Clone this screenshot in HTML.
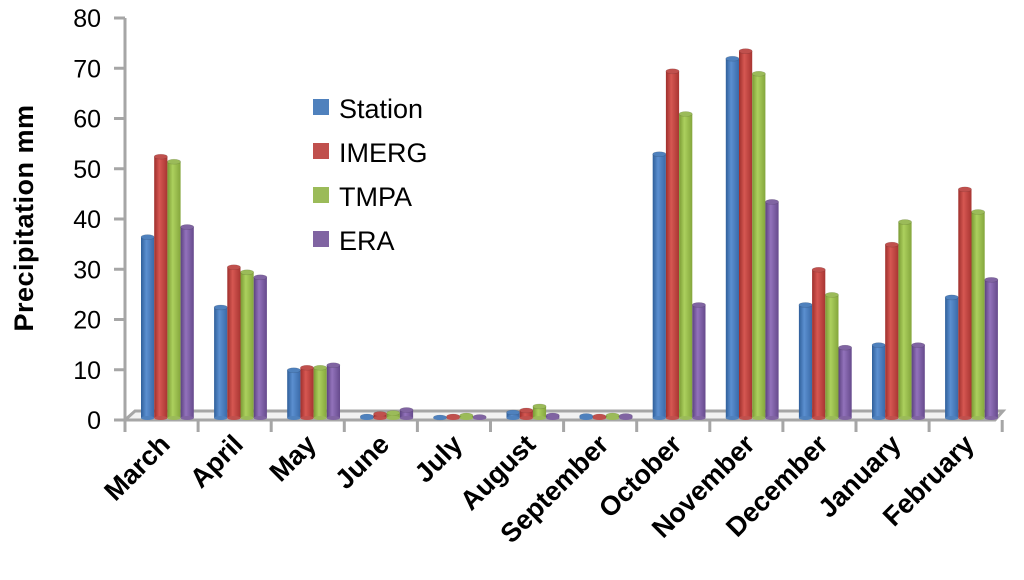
<!DOCTYPE html>
<html><head><meta charset="utf-8"><style>
html,body{margin:0;padding:0;background:#fff;}
svg{display:block;font-family:"Liberation Sans",sans-serif;}
</style></head><body>
<svg id="chart" width="1024" height="580" viewBox="0 0 1024 580">
<defs>
<linearGradient id="g0" x1="0" x2="1"><stop offset="0" stop-color="#2f5f9a"/><stop offset="0.4" stop-color="#5b8fd0"/><stop offset="1" stop-color="#3a6aa8"/></linearGradient>
<linearGradient id="g1" x1="0" x2="1"><stop offset="0" stop-color="#9e2f2c"/><stop offset="0.4" stop-color="#d65752"/><stop offset="1" stop-color="#a83532"/></linearGradient>
<linearGradient id="g2" x1="0" x2="1"><stop offset="0" stop-color="#7a9a34"/><stop offset="0.4" stop-color="#acd05e"/><stop offset="1" stop-color="#84a63c"/></linearGradient>
<linearGradient id="g3" x1="0" x2="1"><stop offset="0" stop-color="#5c4280"/><stop offset="0.4" stop-color="#9272bb"/><stop offset="1" stop-color="#664a8c"/></linearGradient>
</defs>
<g id="axes"></g>
<g id="bars"></g>
<g id="labels"></g>
</svg>
<script>
const categories=["March","April","May","June","July","August","September","October","November","December","January","February"];
const seriesNames=["Station","IMERG","TMPA","ERA"];
const station=[36,22,9.5,0.3,0.1,1.1,0.4,52.5,71.5,22.5,14.5,24];
const imerg=[52,30,10,0.8,0.3,1.5,0.3,69,73,29.5,34.5,45.5];
const tmpa=[51,29,10,1,0.5,2.3,0.5,60.5,68.5,24.5,39,41];
const era=[38,28,10.5,1.6,0.2,0.5,0.4,22.5,43,14,14.5,27.5];
const yTicks=[0,10,20,30,40,50,60,70,80];
const series=[station,imerg,tmpa,era];
const colors=["#4f81bd","#c0504d","#9bbb59","#8064a2"];
const NS="http://www.w3.org/2000/svg";
const x0=125,catW=73.1,yBase=418,yTop=18,yMax=80;
function y(v){return yBase-(v/yMax)*(yBase-yTop+2);}
function mk(tag,attrs,parent){const e=document.createElementNS(NS,tag);for(const k in attrs)e.setAttribute(k,attrs[k]);parent.appendChild(e);return e;}
const axes=document.getElementById('axes'),bars=document.getElementById('bars'),labels=document.getElementById('labels');
const floor=mk('path',{d:`M${x0} 420 L${x0+10} 411 L1003 411 L995 420 Z`,fill:'#f2f2f2',stroke:'#a6a6a6','stroke-width':3},axes);

const ya=mk('line',{x1:x0,y1:18,x2:x0,y2:421,stroke:'#a6a6a6','stroke-width':3},axes);

yTicks.forEach(t=>{
  const yy=t===0?420:y(t)+2;
  const tl=mk('line',{x1:x0-11,y1:yy,x2:x0,y2:yy,stroke:'#a6a6a6','stroke-width':3},axes);
  
  const tx=mk('text',{x:101,y:yy+9,'text-anchor':'end','font-size':25,fill:'#000'},labels);
  tx.textContent=t;
  
});
for(let i=0;i<=categories.length;i++){
  const xx=x0+i*catW;
  const tl=mk('line',{x1:xx,y1:420,x2:xx,y2:432,stroke:'#a6a6a6','stroke-width':3},axes);
  
}
categories.forEach((c,i)=>{
  const cx=x0+(i+0.5)*catW+10;
  const t=mk('text',{x:0,y:0,'text-anchor':'end','font-size':27,'font-weight':'bold',transform:`translate(${cx},446) rotate(-45)`},labels);
  t.textContent=c;
  
  series.forEach((s,j)=>{
    const bw=13.2, bx=x0+i*catW+16+j*bw;
    const top=y(s[i]);
    const g=mk('g',{},bars);
    
    
    mk('rect',{x:bx,y:top,width:bw,height:Math.max(0,yBase-top),fill:`url(#g${j})`},g);
    mk('ellipse',{cx:bx+bw/2,cy:top,rx:bw/2,ry:2.5,fill:colors[j],stroke:'rgba(0,0,0,0.15)','stroke-width':0.6},g);
    mk('ellipse',{cx:bx+bw/2,cy:yBase,rx:bw/2,ry:2,fill:colors[j]},g);
  });
});
const yt=mk('text',{x:0,y:0,'text-anchor':'middle','font-size':27,'font-weight':'bold','letter-spacing':'0.5',transform:'translate(33,218) rotate(-90)'},labels);
yt.textContent='Precipitation mm';

seriesNames.forEach((n,j)=>{
  const ly=110+j*44;
  const g=mk('g',{},labels);
  
  
  mk('rect',{x:313,y:ly-11,width:16,height:16,fill:colors[j]},g);
  const t=mk('text',{x:339,y:ly+8,'font-size':27,fill:'#000'},g);
  t.textContent=n;
});
</script>
</body></html>
